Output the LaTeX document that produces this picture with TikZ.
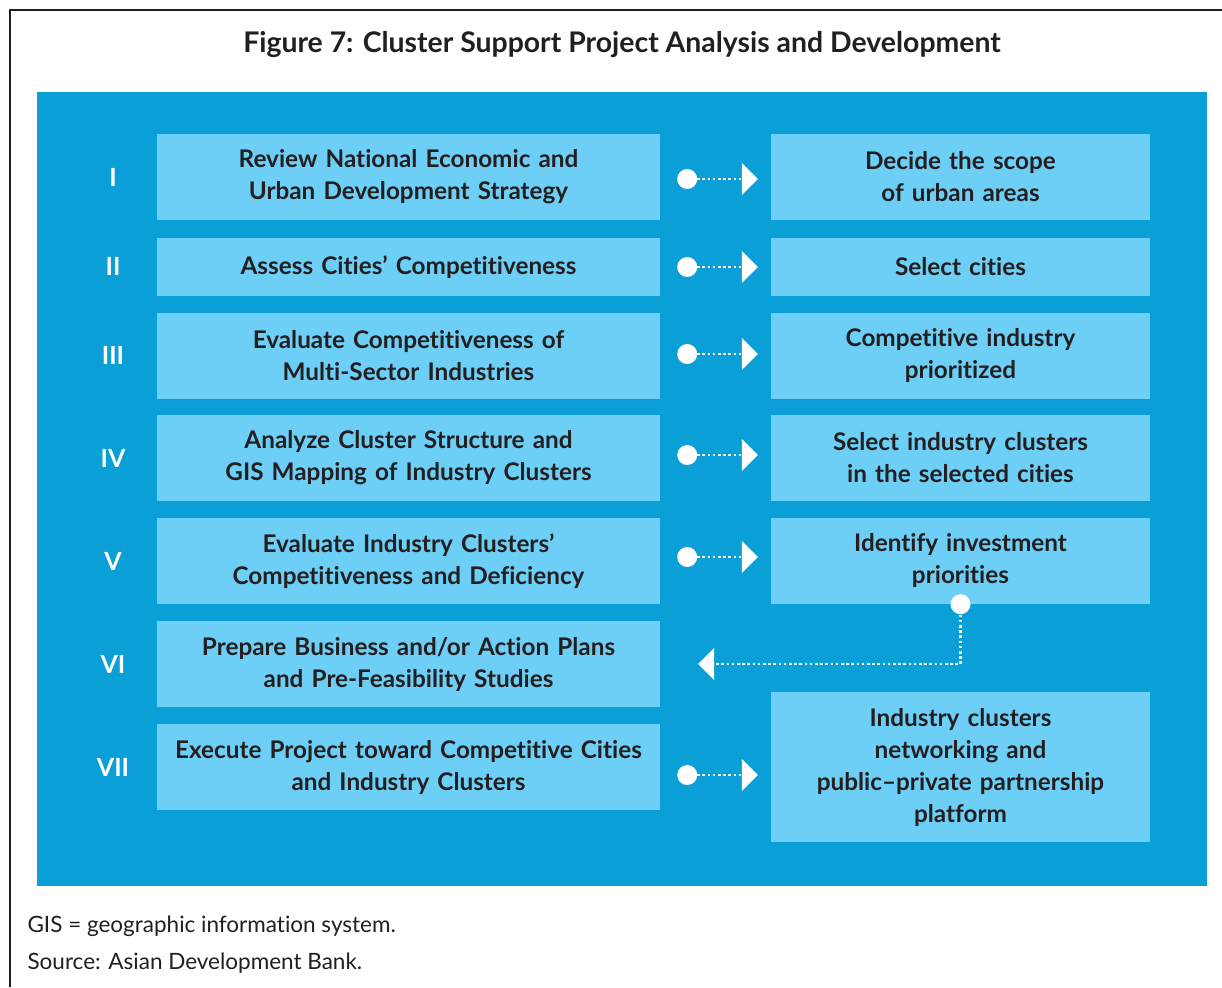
\documentclass[tikz,border=0pt]{standalone}
\usepackage{fontspec}
\setmainfont{Lato}[Ligatures=NoCommon]
\usetikzlibrary{arrows.meta}
\definecolor{bgblue}{HTML}{0A9FD6}
\definecolor{boxblue}{HTML}{6DCFF6}
\definecolor{ink}{HTML}{231F20}
\tikzset{
  box/.style={fill=boxblue, text=ink, inner sep=0pt, align=center,
    font=\fontsize{24.3}{32}\selectfont\bfseries},
  lbox/.style={box, minimum width=503pt, minimum height=86pt, text width=495pt},
  rbox/.style={box, minimum width=379pt, minimum height=86pt, text width=371pt},
  roman/.style={text=white, font=\fontsize{25}{30}\selectfont\bfseries},
  dotline/.style={white, line width=2.6pt, dash pattern=on 2.6pt off 2.6pt},
  conn/.style={dotline, {Circle[length=20pt,width=20pt,line width=0pt]}-{Triangle[length=16pt,width=32pt,line width=0pt]}, shorten <=17pt, shorten >=13pt},
  foot/.style={text=ink, anchor=west, font=\fontsize{22.5}{26}\selectfont},
}
\begin{document}
\begin{tikzpicture}[x=1pt,y=-1pt]
\useasboundingbox (0,0) rectangle (1222,987);
\fill[white] (0,0) rectangle (1222,987);
\draw[ink, line width=2.5pt] (10,987) -- (10,10) -- (1222,10);
\node[text=ink, font=\fontsize{28.4}{32}\selectfont\bfseries] (title) at (622,45) {Figure 7: Cluster Support Project Analysis and Development};
\fill[bgblue] (37,92) rectangle (1207,886);

\node[lbox] (L1) at (408.5,177) {Review National Economic and\\Urban Development Strategy};
\node[lbox, minimum height=58pt] (L2) at (408.5,267) {Assess Cities’ Competitiveness};
\node[lbox] (L3) at (408.5,356) {Evaluate Competitiveness of\\Multi-Sector Industries};
\node[lbox] (L4) at (408.5,458) {Analyze Cluster Structure and\\GIS Mapping of Industry Clusters};
\node[lbox] (L5) at (408.5,561) {Evaluate Industry Clusters’\\Competitiveness and Deficiency};
\node[lbox] (L6) at (408.5,664) {Prepare Business and/or Action Plans\\and Pre-Feasibility Studies};
\node[lbox] (L7) at (408.5,767) {Execute Project toward Competitive Cities\\and Industry Clusters};

\node[rbox] (R1) at (960.5,177) {Decide the scope\\of urban areas};
\node[rbox, minimum height=58pt] (R2) at (960.5,267) {Select cities};
\node[rbox] (R3) at (960.5,356) {Competitive industry\\prioritized};
\node[rbox] (R4) at (960.5,458) {Select industry clusters\\in the selected cities};
\node[rbox] (R5) at (960.5,561) {Identify investment\\priorities};
\node[rbox, minimum height=150pt] (R7) at (960.5,767) {Industry clusters\\networking and\\public–private partnership\\platform};

\node[roman] (n1) at (113,177) {I};
\node[roman] (n2) at (113,266) {II};
\node[roman] (n3) at (113,355) {III};
\node[roman] (n4) at (113,458) {IV};
\node[roman] (n5) at (113,561) {V};
\node[roman] (n6) at (113,664) {VI};
\node[roman] (n7) at (113,767) {VII};

\draw[conn] ([yshift=-2pt]L1.east) -- ([yshift=-2pt]R1.west);
\draw[conn] (L2.east) -- (R2.west);
\draw[conn] ([yshift=2pt]L3.east) -- ([yshift=2pt]R3.west);
\draw[conn] ([yshift=3pt]L4.east) -- ([yshift=3pt]R4.west);
\draw[conn] ([yshift=4pt]L5.east) -- ([yshift=4pt]R5.west);
\draw[conn] ([yshift=-8pt]L7.east) -- ([yshift=-8pt]L7.east -| R7.west);

\fill[white] (R5.south) circle (10pt);
\draw[dotline, -{Triangle[length=16pt,width=32pt,line width=0pt]}, shorten >=38pt] (R5.south) -- (R5.south |- L6.east) -- (L6.east);

\node[foot] (f1) at (24,926) {GIS = geographic information system.};
\node[foot] (f2) at (24,963) {Source: Asian Development Bank.};
\end{tikzpicture}
\end{document}
